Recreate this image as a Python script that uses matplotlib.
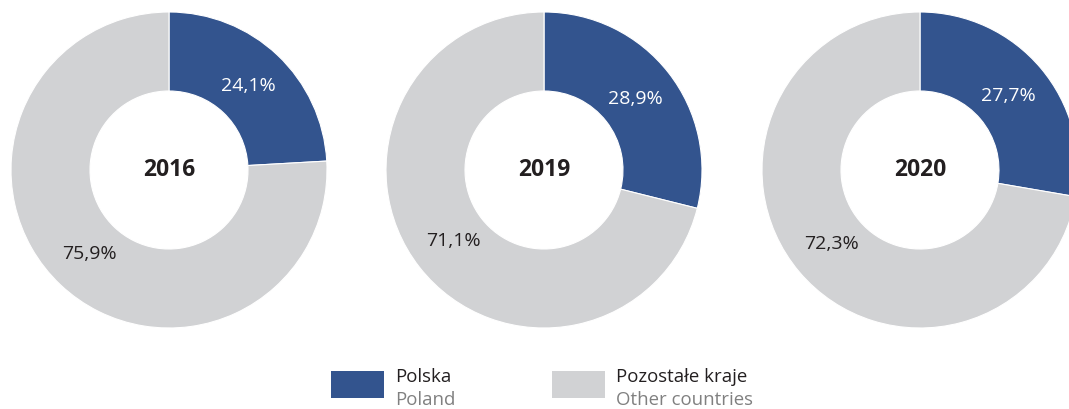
"""
Share of Poland vs other countries, shown as one donut per year with a
shared two-line (Polish / English) legend underneath.
"""

import matplotlib
matplotlib.use("Agg")
import matplotlib.pyplot as plt
from matplotlib.patches import Rectangle

plt.rcParams["font.family"] = ["Open Sans", "DejaVu Sans"]

years = ["2016", "2019", "2020"]
poland_share = [24.1, 28.9, 27.7]
other_share = [75.9, 71.1, 72.3]

series_pl = ["Polska", "Pozostałe kraje"]
series_en = ["Poland", "Other countries"]
colors = ["#33548E", "#D1D2D4"]
label_colors = ["white", "#231F20"]

W, H = 1069, 409
fig = plt.figure(figsize=(W / 100, H / 100), dpi=100)

# donut geometry in pixels
R_PX = 158
CY = 170
centers_x = [169, 544, 920]

for year, pl, other, cx in zip(years, poland_share, other_share, centers_x):
    ax = fig.add_axes([(cx - R_PX) / W, (H - CY - R_PX) / H,
                       2 * R_PX / W, 2 * R_PX / H])
    wedges, _, autotexts = ax.pie(
        [pl, other], colors=colors, startangle=90, counterclock=False,
        radius=1.0, pctdistance=0.73,
        autopct=lambda p: f"{p:.1f}%".replace(".", ","),
        wedgeprops=dict(width=0.5, edgecolor="white", linewidth=0.8),
        textprops=dict(fontsize=14),
    )
    for t, c in zip(autotexts, label_colors):
        t.set_color(c)
    ax.text(0, 0, year, ha="center", va="center", fontsize=16.5,
            fontweight="bold", color="#231F20")
    ax.set_xlim(-1, 1)
    ax.set_ylim(-1, 1)
    ax.set_aspect("equal")
    ax.axis("off")

# legend: colour box + Polish name with English name below
legend_x = [331, 552]
for x, c, pl_name, en_name in zip(legend_x, colors, series_pl, series_en):
    fig.add_artist(Rectangle((x / W, (H - 398) / H), 53 / W, 27 / H,
                             transform=fig.transFigure, facecolor=c,
                             edgecolor="none"))
    fig.text((x + 64) / W, (H - 382) / H, pl_name, fontsize=13.4,
             color="#231F20", va="baseline")
    fig.text((x + 64) / W, (H - 405) / H, en_name, fontsize=13.4,
             color="#808080", va="baseline")

fig.savefig("out.png", dpi=100, facecolor="white")
plt.close(fig)
